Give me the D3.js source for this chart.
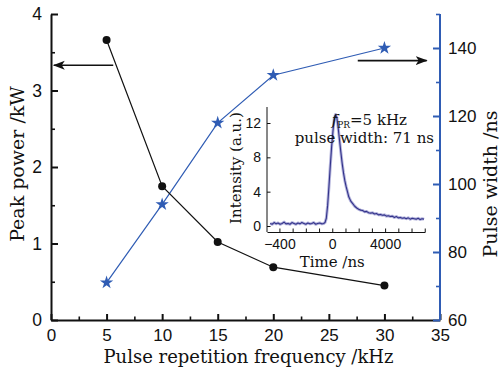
<!DOCTYPE html>
<html>
<head>
<meta charset="utf-8">
<script src="https://cdn.jsdelivr.net/npm/d3@7"></script>
<style>
  html, body { margin: 0; padding: 0; background: #fff; }
  svg { display: block; font-family: "DejaVu Serif", "Liberation Serif", serif; }
</style>
</head>
<body>
<svg id="chart" width="501" height="371"></svg>
<script>
// main series
const freq = [5, 10, 15, 20, 30];
const peakPower = [3.66, 1.75, 1.02, 0.69, 0.45];
const pulseWidth = [71, 94, 118, 132, 140];

const xTicks = [0, 5, 10, 15, 20, 25, 30, 35];
const leftTicks = [0, 1, 2, 3, 4];
const rightTicks = [60, 80, 100, 120, 140];

// inset pulse trace
const traceTime = [-470, -455, -440, -425, -410, -395, -380, -365, -350, -335, -320, -305, -290, -275, -260, -245, -230, -215, -200,
  -185, -170, -155, -140, -125, -110, -95, -80, -65,
  -55, -45, -35, -25, -15, -5, 5, 15, 25, 35, 45, 55, 65, 75, 85, 95, 105, 115, 125, 140, 155, 170, 185, 200,
  215, 230, 245, 260, 275, 290, 305, 320, 335, 350, 365, 380, 395, 410, 425, 440, 455, 470, 485, 500,
  515, 530, 545, 560, 575, 590, 605, 620, 635, 650, 665, 680, 695];
const traceIntensity = [0.3, 0.2, 0.4, 0.25, 0.35, 0.2, 0.3, 0.45, 0.25, 0.3, 0.2, 0.4, 0.3, 0.2, 0.35, 0.25, 0.4, 0.3, 0.2,
  0.35, 0.25, 0.3, 0.4, 0.2, 0.3, 0.35, 0.25, 0.3,
  0.4, 0.9, 2.4, 4.6, 7.0, 9.2, 11.0, 12.5, 13.0, 12.6, 11.4, 10.0, 8.6, 7.3, 6.2, 5.3, 4.6, 4.0, 3.4, 2.9, 2.6, 2.3, 2.1, 1.95,
  1.85, 1.8, 1.65, 1.7, 1.55, 1.5, 1.55, 1.4, 1.45, 1.3, 1.35, 1.25, 1.3, 1.15, 1.2, 1.1, 1.15, 1.0, 1.1, 0.95,
  1.0, 0.9, 0.95, 0.85, 0.95, 0.8, 0.9, 0.85, 0.8, 0.9, 0.75, 0.85, 0.8];
const insetXTicks = [-400, 0, 400];
const insetXTickLabels = ["\u2212400", "0", "4000"];
const insetYTicks = [0, 4, 8, 12];

const black = "#111";
const blue = "#2f5cb4";

const svg = d3.select("#chart");

const x = d3.scaleLinear().domain([0, 35]).range([51, 440]);
const yL = d3.scaleLinear().domain([0, 4]).range([320, 14]);
const yR = d3.scaleLinear().domain([60, 150]).range([320, 14]);

// ---- axes ----
function styleAxis(g, color, size, width) {
    g.selectAll(".domain").attr("stroke", color).attr("stroke-width", width);
    g.selectAll(".tick line").attr("stroke", color).attr("stroke-width", width);
    g.selectAll(".tick text").attr("fill", "#111").attr("font-size", size);
}

const gx = svg.append("g")
    .attr("transform", "translate(0," + yL(0) + ")")
    .call(d3.axisBottom(x).tickValues(xTicks).tickSize(-6).tickSizeOuter(0).tickPadding(9));
gx.selectAll(".tick text").attr("dy", "0.72em");
svg.append("g")
    .attr("transform", "translate(0," + yL(0) + ")")
    .call(d3.axisBottom(x).tickValues(xTicks.slice(0, -1).map(d => d + 2.5)).tickSize(-3.5).tickFormat(""))
    .call(g => g.select(".domain").remove())
    .call(g => styleAxis(g, black, 16, 1.6));
styleAxis(gx, black, 17, 2);

const gl = svg.append("g")
    .attr("transform", "translate(" + x(0) + ",0)")
    .call(d3.axisLeft(yL).tickValues(leftTicks).tickFormat(d3.format("d")).tickSize(-7).tickSizeOuter(0).tickPadding(9));
svg.append("g")
    .attr("transform", "translate(" + x(0) + ",0)")
    .call(d3.axisLeft(yL).tickValues(leftTicks.slice(0, -1).map(d => d + 0.5)).tickSize(-4).tickFormat(""))
    .call(g => g.select(".domain").remove())
    .call(g => styleAxis(g, black, 16, 1.6));
styleAxis(gl, black, 17.5, 2);

const gr = svg.append("g")
    .attr("transform", "translate(" + x(35) + ",0)")
    .call(d3.axisRight(yR).tickValues(rightTicks).tickSize(-7).tickSizeOuter(0).tickPadding(8));
svg.append("g")
    .attr("transform", "translate(" + x(35) + ",0)")
    .call(d3.axisRight(yR).tickValues(rightTicks.map(d => d + 10)).tickSize(-4).tickFormat(""))
    .call(g => g.select(".domain").remove())
    .call(g => styleAxis(g, blue, 16, 1.6));
styleAxis(gr, blue, 17, 2);
gr.select(".domain").attr("d", "M0," + yR(60) + "V" + yR(150));

// axis titles
svg.append("text")
    .attr("x", (x(0) + x(35)) / 2 + 3).attr("y", 363)
    .attr("text-anchor", "middle").attr("font-size", 18).attr("fill", black)
    .text("Pulse repetition frequency /kHz");
svg.append("text")
    .attr("transform", "translate(24,164) rotate(-90)")
    .attr("text-anchor", "middle").attr("font-size", 19).attr("fill", black)
    .text("Peak power /kW");
svg.append("text")
    .attr("transform", "translate(497,184) rotate(-90)")
    .attr("text-anchor", "middle").attr("font-size", 19).attr("fill", black)
    .text("Pulse width /ns");

// ---- inset ----
const ix = d3.scaleLinear().domain([-494, 702]).range([267, 425]);
const iy = d3.scaleLinear().domain([0, 12]).range([226, 123]);
const iyTop = 107, ixBottom = 232;

const inset = svg.append("g");
const trace = d3.line().x((d, i) => ix(traceTime[i])).y(d => iy(d));
inset.append("path").datum(traceIntensity)
    .attr("d", trace).attr("fill", "none")
    .attr("stroke", "#b4b4dc").attr("stroke-width", 3).attr("stroke-linejoin", "round");
inset.append("path").datum(traceIntensity)
    .attr("d", trace).attr("fill", "none")
    .attr("stroke", "#32328a").attr("stroke-width", 1.1).attr("stroke-linejoin", "round");

const ixAxis = inset.append("g")
    .attr("transform", "translate(0," + ixBottom + ")")
    .call(d3.axisBottom(ix).tickValues(d3.range(-400, 701, 100)).tickSize(-3.5).tickSizeOuter(0).tickPadding(7)
        .tickFormat(d => { const k = insetXTicks.indexOf(d); return k < 0 ? "" : insetXTickLabels[k]; }));
ixAxis.selectAll(".tick text").attr("dy", "0.72em");
styleAxis(ixAxis, black, 14, 1);

const iyAxis = inset.append("g")
    .attr("transform", "translate(" + ix(-494) + ",0)")
    .call(d3.axisLeft(iy).tickValues(insetYTicks).tickSize(-3.5).tickSizeOuter(0).tickPadding(6));
styleAxis(iyAxis, black, 14, 1);
iyAxis.select(".domain").attr("d", "M0," + iyTop + "V" + ixBottom);

inset.append("text")
    .attr("x", ix(0)).attr("y", 267)
    .attr("text-anchor", "middle").attr("font-size", 15).attr("fill", black)
    .text("Time /ns");
inset.append("text")
    .attr("transform", "translate(241,168) rotate(-90)")
    .attr("text-anchor", "middle").attr("font-size", 15).attr("fill", black)
    .text("Intensity (a.u.)");

const fLabel = inset.append("text")
    .attr("x", 407).attr("y", 125)
    .attr("text-anchor", "end").attr("font-size", 15).attr("fill", black);
fLabel.append("tspan").attr("font-style", "italic").text("f");
fLabel.append("tspan").attr("font-size", 9).attr("dy", 3).text("PR");
fLabel.append("tspan").attr("dy", -3).text("=5 kHz");
inset.append("text")
    .attr("x", 434).attr("y", 143)
    .attr("text-anchor", "end").attr("font-size", 15).attr("fill", black)
    .text("pulse width: 71 ns");

// ---- series ----
const linePP = d3.line().x((d, i) => x(freq[i])).y(d => yL(d));
const linePW = d3.line().x((d, i) => x(freq[i])).y(d => yR(d));

svg.append("path").datum(pulseWidth)
    .attr("d", linePW).attr("fill", "none").attr("stroke", blue).attr("stroke-width", 1.2);
svg.selectAll(".star").data(pulseWidth).join("path")
    .attr("class", "star")
    .attr("transform", (d, i) => "translate(" + x(freq[i]) + "," + yR(d) + ")")
    .attr("d", d3.symbol(d3.symbolStar, 55))
    .attr("fill", blue);

svg.append("path").datum(peakPower)
    .attr("d", linePP).attr("fill", "none").attr("stroke", black).attr("stroke-width", 1.2);
svg.selectAll(".dot").data(peakPower).join("circle")
    .attr("class", "dot")
    .attr("cx", (d, i) => x(freq[i])).attr("cy", d => yL(d))
    .attr("r", 4).attr("fill", black);

// ---- arrows pointing to the axes ----
const defs = svg.append("defs");
defs.append("marker")
    .attr("id", "head").attr("viewBox", "0 -5 12 10")
    .attr("refX", 11).attr("refY", 0)
    .attr("markerWidth", 12).attr("markerHeight", 10)
    .attr("markerUnits", "userSpaceOnUse").attr("orient", "auto")
    .append("path").attr("d", "M0,-4.5L12,0L0,4.5L3,0Z").attr("fill", black);

svg.append("line")
    .attr("x1", x(5.6)).attr("y1", yL(3.33)).attr("x2", x(0.25)).attr("y2", yL(3.33))
    .attr("stroke", black).attr("stroke-width", 1.6).attr("marker-end", "url(#head)");
svg.append("line")
    .attr("x1", x(27.6)).attr("y1", yR(136.3)).attr("x2", x(33.8)).attr("y2", yR(136.3))
    .attr("stroke", black).attr("stroke-width", 1.6).attr("marker-end", "url(#head)");
</script>
</body>
</html>
